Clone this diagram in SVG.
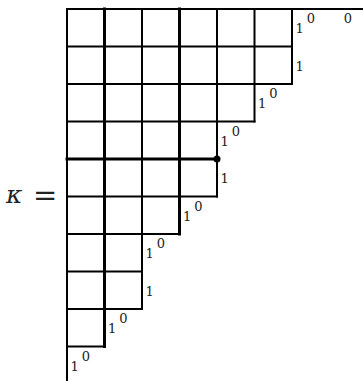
<svg xmlns="http://www.w3.org/2000/svg" width="363" height="381" viewBox="0 0 363 381">
<style>
.thin{stroke:#000;stroke-width:2;fill:none;stroke-linecap:square}
.thick{stroke:#000;stroke-width:3;fill:none;stroke-linecap:square}
.lab{font-family:"DejaVu Serif","Liberation Serif",serif;font-size:13px;fill:#222}
.zero{text-anchor:middle}
.math{font-family:"DejaVu Serif","Liberation Serif",serif;fill:#222}
</style>
<rect width="363" height="381" fill="#fff"/>
<g id="grid">
  <line class="thin" x1="67" y1="9" x2="67" y2="381"/>
  <line class="thin" x1="67" y1="9" x2="363" y2="9"/>
  <line class="thin" x1="67" y1="46.5" x2="292" y2="46.5"/>
  <line class="thin" x1="67" y1="84" x2="292" y2="84"/>
  <line class="thin" x1="67" y1="121.5" x2="254.5" y2="121.5"/>
  <line class="thin" x1="67" y1="196.5" x2="217" y2="196.5"/>
  <line class="thin" x1="67" y1="234" x2="179.5" y2="234"/>
  <line class="thin" x1="67" y1="271.5" x2="142" y2="271.5"/>
  <line class="thin" x1="67" y1="309" x2="142" y2="309"/>
  <line class="thin" x1="67" y1="346.5" x2="104.5" y2="346.5"/>
  <line class="thin" x1="142" y1="9" x2="142" y2="309"/>
  <line class="thin" x1="217" y1="9" x2="217" y2="196.5"/>
  <line class="thin" x1="254.5" y1="9" x2="254.5" y2="121.5"/>
  <line class="thin" x1="292" y1="9" x2="292" y2="84"/>
  <line class="thick" x1="104.5" y1="9" x2="104.5" y2="346.5"/>
  <line class="thick" x1="179.5" y1="9" x2="179.5" y2="234"/>
  <line class="thick" x1="67" y1="159" x2="217" y2="159"/>
  <circle cx="217" cy="159" r="3.5" fill="#000"/>
</g>
<g id="labels">
  <text class="lab" x="295.5" y="33">1</text>
  <text class="lab zero" x="311" y="23">0</text>
  <text class="lab zero" x="348" y="23">0</text>
  <text class="lab" x="295.5" y="70.5">1</text>
  <text class="lab" x="258" y="108">1</text>
  <text class="lab zero" x="273.5" y="98">0</text>
  <text class="lab" x="220.5" y="145.5">1</text>
  <text class="lab zero" x="236" y="135.5">0</text>
  <text class="lab" x="220.5" y="183">1</text>
  <text class="lab" x="183" y="220.5">1</text>
  <text class="lab zero" x="198.5" y="210.5">0</text>
  <text class="lab" x="145.5" y="258">1</text>
  <text class="lab zero" x="161" y="248">0</text>
  <text class="lab" x="145.5" y="295.5">1</text>
  <text class="lab" x="108" y="333">1</text>
  <text class="lab zero" x="123.5" y="323">0</text>
  <text class="lab" x="70.5" y="370.5">1</text>
  <text class="lab zero" x="86" y="360.5">0</text>
</g>
<g id="kappa">
  <text class="math" x="6" y="203" font-size="25" font-style="italic">κ</text>
  <text class="math" x="33" y="205" font-size="29">=</text>
</g>
</svg>
